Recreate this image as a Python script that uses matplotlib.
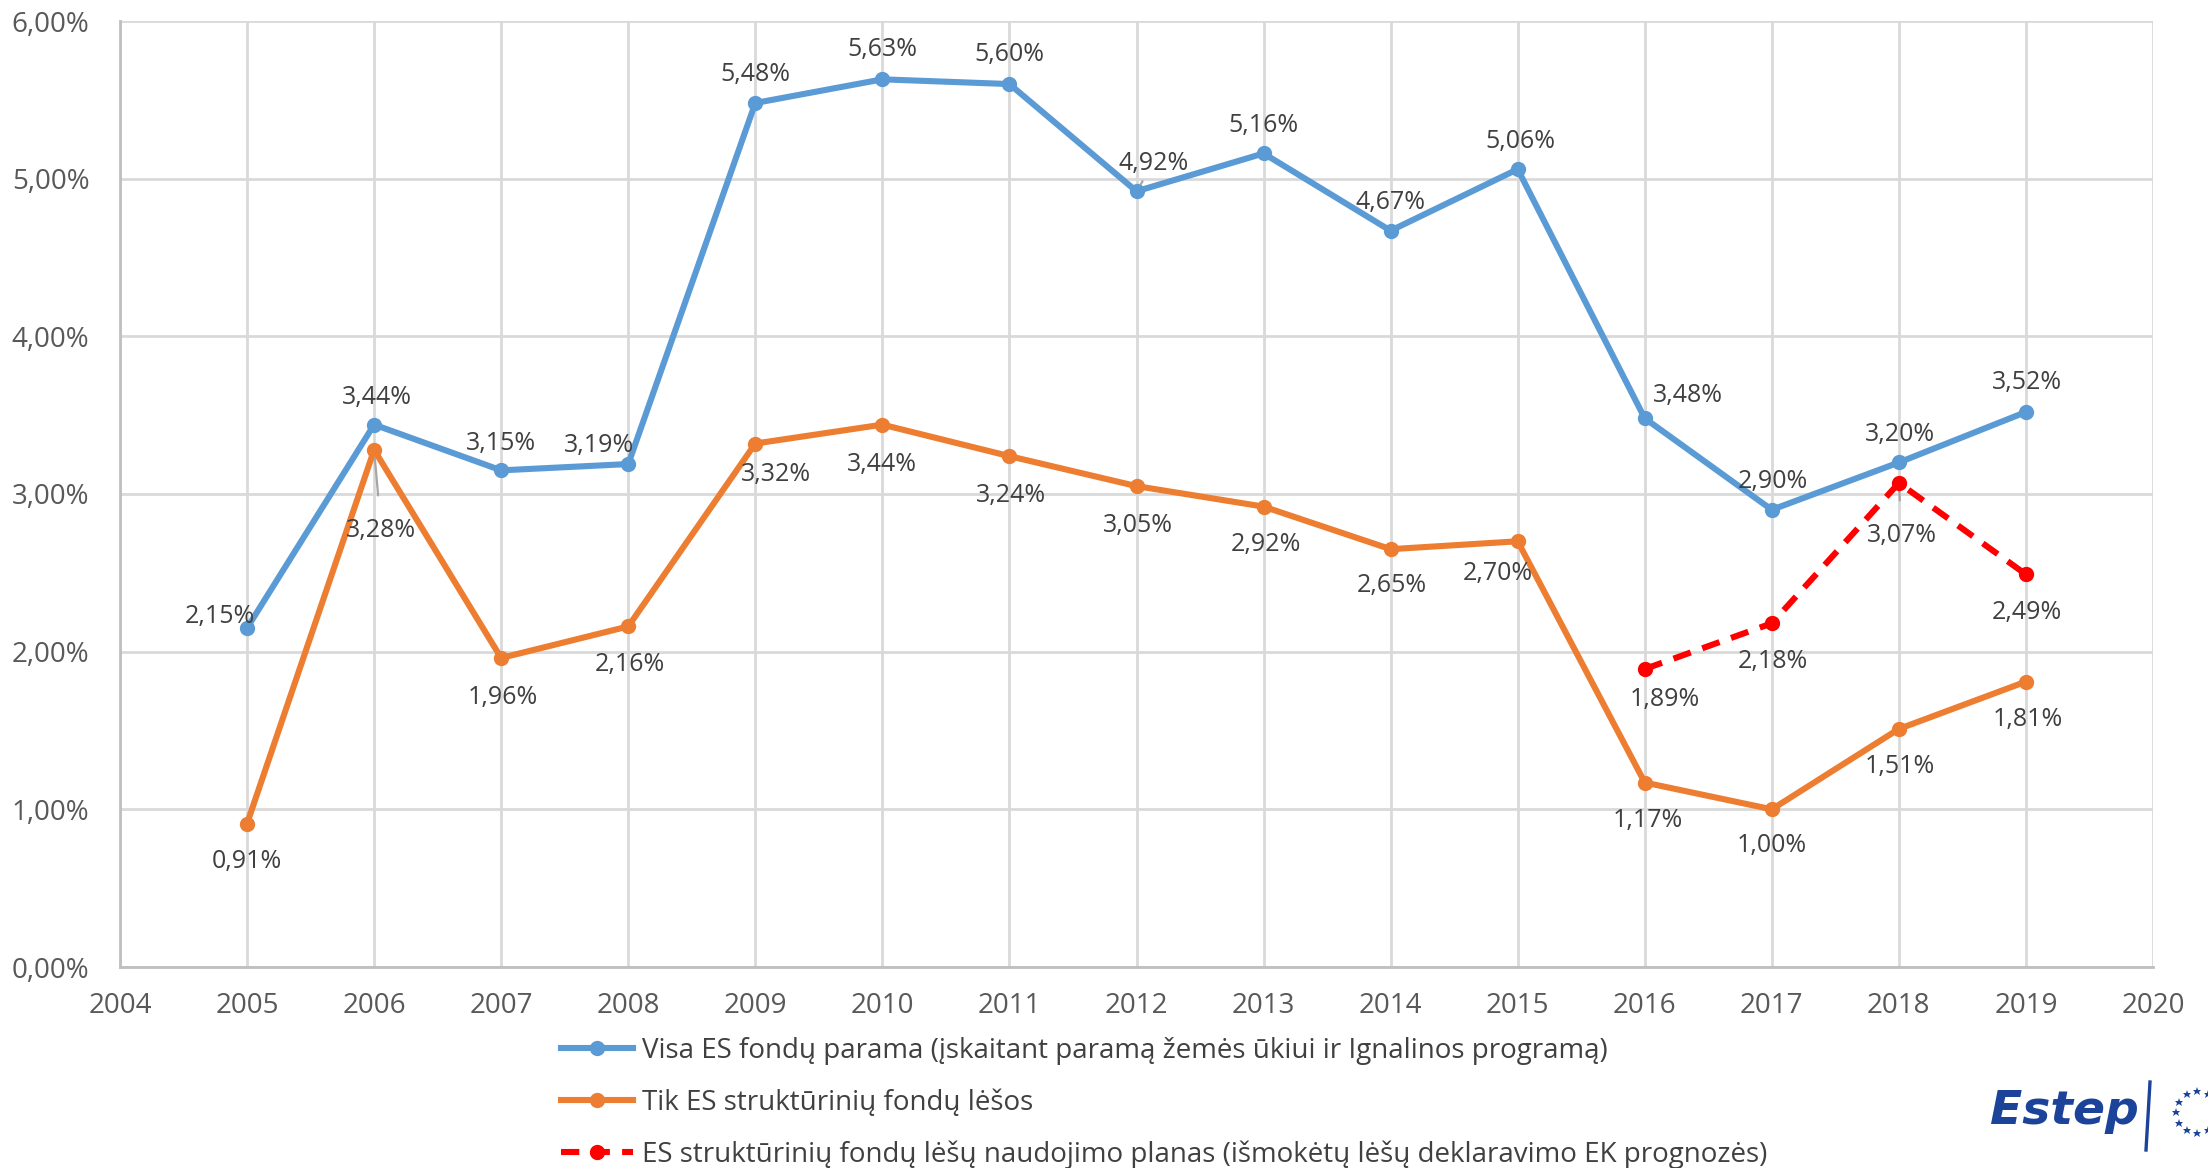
import numpy as np
import matplotlib
matplotlib.use("Agg")
from matplotlib import pyplot as plt
from matplotlib.ticker import FuncFormatter

plt.rcParams['font.family'] = ['Open Sans', 'DejaVu Sans']

years = [2005, 2006, 2007, 2008, 2009, 2010, 2011, 2012, 2013, 2014, 2015, 2016, 2017, 2018, 2019]
visa = [2.15, 3.44, 3.15, 3.19, 5.48, 5.63, 5.60, 4.92, 5.16, 4.67, 5.06, 3.48, 2.90, 3.20, 3.52]
struct = [0.91, 3.28, 1.96, 2.16, 3.32, 3.44, 3.24, 3.05, 2.92, 2.65, 2.70, 1.17, 1.00, 1.51, 1.81]
plan_years = [2016, 2017, 2018, 2019]
plan = [1.89, 2.18, 3.07, 2.49]

names = ["Visa ES fondų parama (įskaitant paramą žemės ūkiui ir Ignalinos programą)",
         "Tik ES struktūrinių fondų lėšos",
         "ES struktūrinių fondų lėšų naudojimo planas (išmokėtų lėšų deklaravimo EK prognozės)"]

# label offsets in screen px of the small preview (dx, dy up)
off_visa = [(-19, 8), (2, 19), (0, 19), (-21, 13), (0, 20), (0, 21), (0, 21), (12, 20),
            (0, 20), (0, 20), (2, 20), (31, 16), (1, 20), (1, 20), (1, 21)]
off_struct = [(0, -27), (5, -57), (1, -28), (1, -27), (15, -22), (0, -28), (1, -28), (1, -28),
              (2, -27), (1, -26), (-14, -23), (2, -27), (0, -26), (1, -27), (1, -27)]
off_plan = [(14, -22), (1, -27), (2, -37), (1, -27)]
leaders = {("v", 2012), ("s", 2006), ("p", 2018)}

DPI = 200
fig = plt.figure(figsize=(2208 / DPI, 1168 / DPI), dpi=DPI)
ax = fig.add_axes([120 / 2208, 1 - 967 / 1168, (2153 - 120) / 2208, (967 - 21) / 1168])

blue = "#5B9BD5"
orange = "#ED7D31"
red = "#FF0000"
txt = "#404040"

ax.plot(years, visa, color=blue, lw=2.2, marker="o", ms=4.5, label=names[0], zorder=3)
ax.plot(years, struct, color=orange, lw=2.2, marker="o", ms=4.5, label=names[1], zorder=3)
ax.plot(plan_years, plan, color=red, lw=2.2, ls=(0, (3, 2)), marker="o", ms=4.5,
        label=names[2], zorder=4)

k = 1.408 * 72 / DPI


def fmt(v):
    return ("%.2f%%" % v).replace(".", ",")


def put(xs, ys, offs, tag):
    for x, y, (dx, dy) in zip(xs, ys, offs):
        lead = (tag, x) in leaders
        ax.annotate(fmt(y), (x, y), xytext=(dx * k, dy * k), textcoords="offset points",
                    ha="center", va="center", fontsize=9, color=txt,
                    arrowprops=dict(arrowstyle="-", color="#A6A6A6", lw=0.8,
                                    shrinkA=6, shrinkB=3) if lead else None)


put(years, visa, off_visa, "v")
put(years, struct, off_struct, "s")
put(plan_years, plan, off_plan, "p")

ax.set_xlim(2004, 2020)
ax.set_ylim(0, 6)
ax.set_xticks(range(2004, 2021))
ax.set_yticks(np.arange(0, 6.01, 1))
ax.yaxis.set_major_formatter(FuncFormatter(lambda v, p: fmt(v)))
ax.grid(True, color="#D9D9D9", lw=1)
ax.set_axisbelow(True)
for s in ["top", "right"]:
    ax.spines[s].set_visible(False)
for s in ["left", "bottom"]:
    ax.spines[s].set_color("#BFBFBF")
    ax.spines[s].set_linewidth(1)
ax.tick_params(axis="both", length=0, labelsize=10, colors="#595959")
ax.tick_params(axis="y", pad=11)
ax.tick_params(axis="x", pad=9)

fig.legend(loc="upper left", bbox_to_anchor=(550 / 2208, 1 - 1026 / 1168), frameon=False,
           fontsize=10, handlelength=2.6, labelspacing=0.85, handletextpad=0.3,
           labelcolor=txt, borderaxespad=0)

# logo
logo = "#1B4399"
fig.text(1990 / 2208, 1 - 1112 / 1168, "Estep", fontsize=17, fontweight="bold", style="italic",
         color=logo, va="center", ha="left", family=["DejaVu Sans"])
fig.add_artist(plt.Line2D([2150 / 2208, 2146 / 2208], [1 - 1082 / 1168, 1 - 1150 / 1168],
                          color=logo, lw=1.2))
cx, cy, r = 2197, 1112, 21
ang = np.radians(np.arange(0, 360, 30))
fig.add_artist(plt.Line2D((cx + r * np.cos(ang)) / 2208, 1 - (cy + r * np.sin(ang)) / 1168,
                          ls="none", marker="*", ms=3.2, color=logo, mew=0))

fig.savefig("out.png", dpi=DPI)
